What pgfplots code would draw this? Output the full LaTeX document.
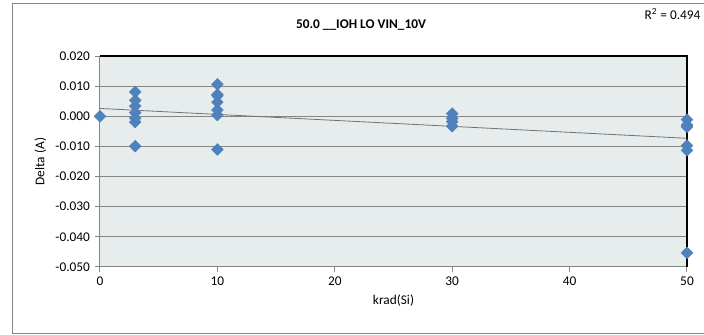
\documentclass[border=0pt]{standalone}
\usepackage{fontspec}
\setmainfont{Carlito}
\usepackage{pgfplots}
\pgfplotsset{compat=1.18}
\definecolor{ptbg}{RGB}{231,236,236}
\definecolor{axgray}{RGB}{134,134,134}
\definecolor{mblue}{RGB}{79,129,189}
\begin{document}
\fontsize{10}{12}\selectfont
\begin{tikzpicture}
\useasboundingbox (0,0) rectangle (528pt,251.25pt);
\clip (0,0) rectangle (528pt,251.25pt);
\draw[axgray, line width=0.75pt] (9pt,0.75pt) rectangle (560pt,248.25pt);
\node[font=\bfseries, anchor=center] at (270.75pt,232.5pt) {50.0 \_\_IOH LO VIN\_10V};
\node[anchor=west] at (480pt,240.5pt) {R\textsuperscript{2} = 0.494};
\begin{axis}[
  at={(75pt,51pt)}, anchor=south west,
  scale only axis, width=440.25pt, height=158.25pt,
  xmin=0, xmax=50, ymin=-0.05, ymax=0.02,
  xtick={0,10,20,30,40,50},
  ytick={-0.05,-0.04,-0.03,-0.02,-0.01,0,0.01,0.02},
  /pgf/number format/assume math mode=true,
  yticklabel style={/pgf/number format/.cd, fixed, fixed zerofill, precision=3},
  scaled y ticks=false,
  ymajorgrids,
  grid style={axgray, line width=0.75pt},
  axis background/.style={fill=ptbg},
  axis line style={draw=none},
  tick style={axgray, line width=0.75pt},
  tick align=outside,
  major tick length=4pt,
  xtick pos=bottom, ytick pos=left,
  ticklabel style={font=\fontsize{10}{12}\selectfont},
  xlabel={krad(Si)}, ylabel={Delta (A)},
  label style={font=\fontsize{10}{12}\selectfont},
  clip=false,
]
\draw[axgray, line width=0.75pt] (rel axis cs:0,1) -- (rel axis cs:0,0) -- (rel axis cs:1,0);
\draw[black, line width=1.2pt] (rel axis cs:0,1) -- (rel axis cs:1,1) -- (rel axis cs:1,0);
\addplot[black!55, line width=0.6pt] coordinates {(0,0.0026) (50,-0.0073)};
\addplot[only marks, mark=square*, mark size=3.1pt, mark options={rotate=45, fill=mblue, draw=mblue}] coordinates {
(0,0.0000)
(3,0.0081) (3,0.0053) (3,0.0034) (3,0.0012) (3,-0.0006) (3,-0.0019) (3,-0.0099)
(10,0.0106) (10,0.0072) (10,0.0068) (10,0.0047) (10,0.0021) (10,0.0004) (10,-0.0110)
(30,0.0009) (30,-0.0007) (30,-0.0018) (30,-0.0033)
(50,-0.0011) (50,-0.0029) (50,-0.0035) (50,-0.0097) (50,-0.0113) (50,-0.0453)
};
\end{axis}
\end{tikzpicture}
\end{document}
